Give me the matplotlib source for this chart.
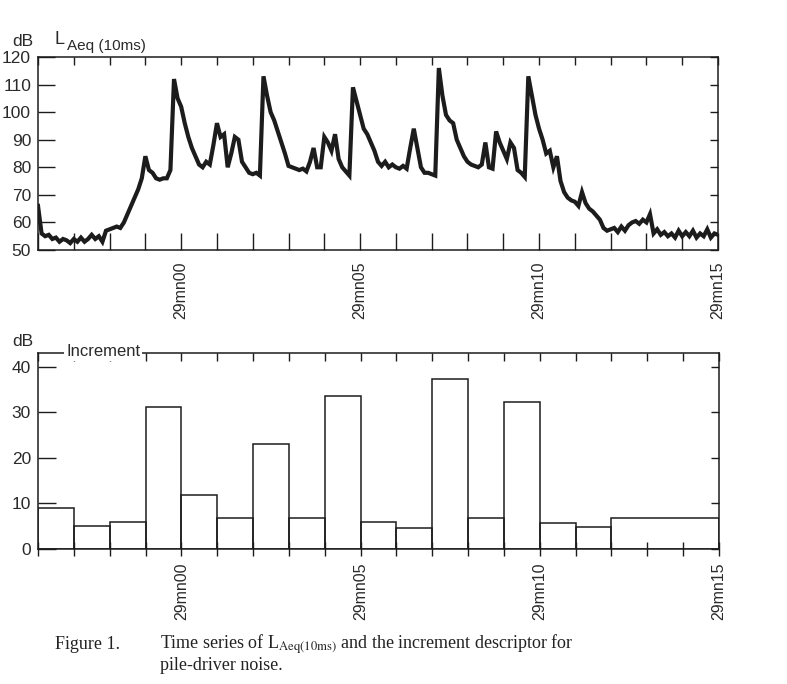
import numpy as np
import matplotlib.pyplot as plt

plt.rcParams['font.family'] = ['Liberation Sans', 'DejaVu Sans']
plt.rcParams['mathtext.fontset'] = 'stix'

# LAeq(10ms) level in dB, one reading every 0.1 s from 28mn56 (-4 s) to 29mn15 (+15 s)
level = [
    66, 56, 55, 55.5, 54, 54.5, 53, 54, 53.5, 52.5,      # -4 s
    54, 53, 54.5, 53, 54, 55.5, 54, 55, 53, 57,          # -3 s
    57.5, 58, 58.5, 58, 60, 63, 66, 69, 72, 76,          # -2 s
    84, 79, 78, 76, 75.5, 76, 76, 79, 112, 105,          # -1 s
    102, 96, 91, 87, 84, 81, 80, 82, 81, 88,             # 0 s
    96, 91, 92, 80, 85, 91, 90, 82, 80, 78,              # 1 s
    77.5, 78, 77, 113, 106, 100, 97, 93, 89, 85,         # 2 s
    80.5, 80, 79.5, 79, 79.5, 78.5, 82, 87, 80, 80,      # 3 s
    91, 89, 86, 92, 83, 80, 78.5, 77, 109, 104,          # 4 s
    99, 94, 92, 89, 86, 82, 80.5, 82, 80, 81,            # 5 s
    80, 79.5, 80.5, 79.5, 87, 94, 87, 80, 78, 78,        # 6 s
    77.5, 77, 116, 106, 99, 97, 96, 90, 87, 84,          # 7 s
    82, 81, 80.5, 80, 81, 89, 80, 79.5, 93, 89,          # 8 s
    86, 83, 89, 87, 79, 78, 76.5, 113, 106, 99,          # 9 s
    94, 90, 85, 86, 80, 84, 75, 71, 69, 68,              # 10 s
    67.5, 66, 71, 67, 65, 64, 62.5, 61, 58, 57,          # 11 s
    57.5, 58, 56.5, 58.5, 57, 59, 60, 60.5, 59.5, 61,    # 12 s
    60, 63, 56, 57.5, 55.5, 56.5, 55, 56, 54.5, 57,      # 13 s
    55, 56.5, 55, 57, 54.5, 56, 55, 57.5, 54.5, 56,      # 14 s
    55.5,                                                # 15 s
]
t_start, t_end = -4, 15
t = np.linspace(t_start, t_end, len(level))

# increment descriptor: bar edges (s) and heights (dB)
inc_edges = [-4, -3, -2, -1, 0, 1, 2, 3, 4, 5, 6, 7, 8, 9, 10, 11, 12, 15]
inc_values = [8.9, 5.0, 5.9, 31.2, 11.9, 6.7, 23.1, 6.8, 33.5, 6.0,
              4.6, 37.3, 6.9, 32.2, 5.8, 4.9, 6.9]

label_secs = [0, 5, 10, 15]
time_labels = ['29mn00', '29mn05', '29mn10', '29mn15']
level_ticks = [50, 60, 70, 80, 90, 100, 110, 120]
inc_ticks = [0, 10, 20, 30, 40]

ink = '#1c1c1c'
txt = '#2a2a2a'

fig = plt.figure(figsize=(7.87, 6.84), dpi=100)
fig.patch.set_facecolor('white')

ax1 = fig.add_axes([38 / 787, 1 - 250 / 684, 680 / 787, 193 / 684])
ax2 = fig.add_axes([38 / 787, 1 - 549 / 684, 681 / 787, 196 / 684])

secs = list(range(t_start, t_end + 1))
xlabels = [time_labels[label_secs.index(s)] if s in label_secs else '' for s in secs]


def frame(ax, yticks, bottom_dir, bottom_len, left_len, pad_x):
    for sp in ax.spines.values():
        sp.set_color(ink)
        sp.set_linewidth(1.1)
    ax.set_xlim(t_start, t_end)
    ax.set_xticks(secs)
    ax.set_xticklabels(xlabels, rotation=90, fontsize=11.5, color=txt)
    ax.tick_params(axis='x', direction=bottom_dir, length=bottom_len, width=1.0,
                   color=ink, pad=pad_x, top=False)
    ax.set_yticks(yticks)
    ax.tick_params(axis='y', direction='in', length=left_len, width=1.0,
                   color=ink, pad=5, labelsize=12.5, labelcolor=txt, right=False)
    top = ax.secondary_xaxis('top')
    top.set_xticks(secs)
    top.tick_params(direction='in', length=6, width=1.0, color=ink, labeltop=False)
    top.spines['top'].set_visible(False)
    right = ax.secondary_yaxis('right')
    right.set_yticks(yticks)
    right.tick_params(direction='in', length=6, width=1.0, color=ink, labelright=False)
    right.spines['right'].set_visible(False)


# top panel: level time series
ax1.plot(t, level, color=ink, lw=3.0, solid_joinstyle='miter')
ax1.set_ylim(50, 120)
frame(ax1, level_ticks, 'in', 12, 12, 8)

# bottom panel: increment bars
left = inc_edges[:-1]
widths = np.diff(inc_edges)
ax2.bar(left, inc_values, width=widths, align='edge', fill=False,
        edgecolor=ink, linewidth=1.1)
ax2.set_ylim(0, 43)
frame(ax2, inc_ticks, 'inout', 10, 13, 5)

# panel headings
fig.text(12 / 787, 1 - 41 / 684, 'dB', fontsize=12.5, color=txt, va='center')
fig.text(54 / 787, 1 - 40 / 684, 'L', fontsize=13, color=txt, va='center')
fig.text(67 / 787, 1 - 46 / 684, 'Aeq (10ms)', fontsize=11, color=txt, va='center')
fig.text(12 / 787, 1 - 342 / 684, 'dB', fontsize=12.5, color=txt, va='center')
fig.text(66 / 787, 1 - 351 / 684, 'Increment', fontsize=12, color=txt, va='center',
         bbox=dict(facecolor='white', edgecolor='none', pad=1.5))

# caption
serif = ['Liberation Serif', 'DejaVu Serif']
fig.text(55 / 787, 1 - 649 / 684, 'Figure 1.', family=serif, fontsize=13, color='#222222')
fig.text(160 / 787, 1 - 649 / 684,
         r'Time series of L$_{\mathrm{Aeq(10ms)}}$ and the increment descriptor for',
         family=serif, fontsize=13, color='#222222')
fig.text(160 / 787, 1 - 670 / 684, 'pile-driver noise.', family=serif, fontsize=13,
         color='#222222')

fig.savefig('out.png', dpi=100, facecolor='white')
